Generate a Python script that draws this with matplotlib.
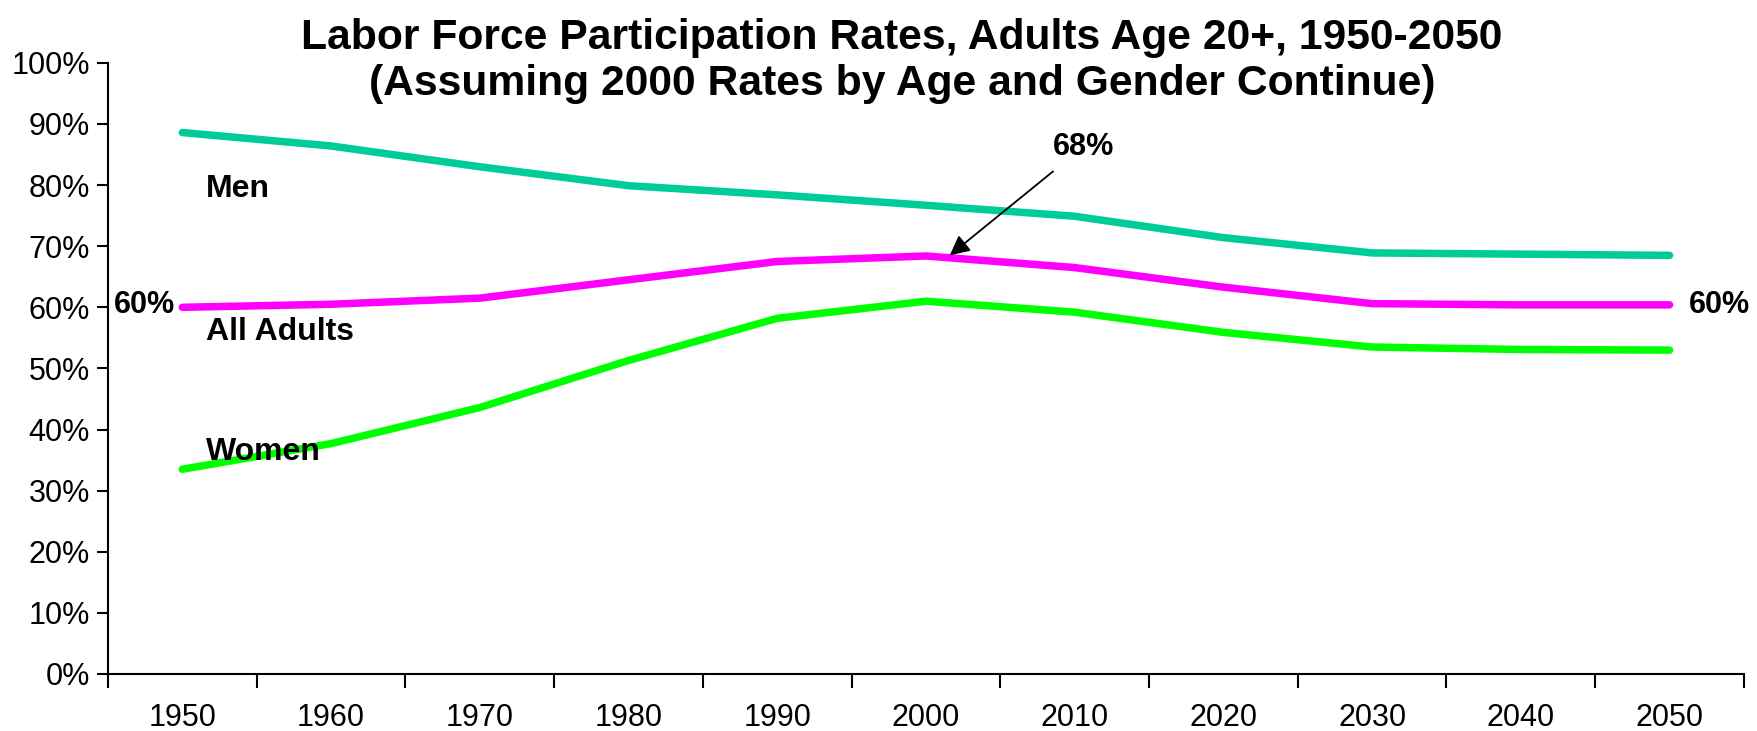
import matplotlib
matplotlib.use("Agg")
import matplotlib.pyplot as plt
from matplotlib.ticker import FixedLocator, PercentFormatter

plt.rcParams['font.family'] = ['Liberation Sans', 'DejaVu Sans']

years = ['1950', '1960', '1970', '1980', '1990', '2000',
         '2010', '2020', '2030', '2040', '2050']
men = [88.6, 86.4, 83.0, 79.9, 78.4, 76.7, 74.9, 71.4, 68.9, 68.7, 68.5]
all_adults = [60.0, 60.5, 61.5, 64.5, 67.5, 68.4, 66.5, 63.3, 60.6, 60.4, 60.4]
women = [33.5, 37.7, 43.6, 51.3, 58.2, 61.0, 59.2, 55.9, 53.5, 53.1, 53.0]

fig = plt.figure(figsize=(17.58, 7.31), dpi=100)
ax = fig.add_axes([0.0614, 0.078, 0.9306, 0.836])

x = list(range(len(years)))
ax.plot(x, men, color='#00CC99', lw=5.4, solid_capstyle='round', clip_on=False)
ax.plot(x, all_adults, color='#FF00FF', lw=5.4, solid_capstyle='round', clip_on=False)
ax.plot(x, women, color='#00FF00', lw=5.4, solid_capstyle='round', clip_on=False)

ax.set_xlim(-0.5, len(years) - 0.5)
ax.set_ylim(0, 100)
ax.set_yticks(range(0, 101, 10))
ax.yaxis.set_major_formatter(PercentFormatter(decimals=0))
ax.set_xticks(x)
ax.set_xticklabels(years)
ax.xaxis.set_minor_locator(FixedLocator([i - 0.5 for i in range(len(years) + 1)]))

ax.tick_params(axis='x', which='major', length=0, pad=21, labelsize=22)
ax.tick_params(axis='x', which='minor', length=10, width=1.5, direction='out')
ax.tick_params(axis='y', length=8, width=1.5, pad=5, labelsize=22)

for s in ['top', 'right']:
    ax.spines[s].set_visible(False)
for s in ['left', 'bottom']:
    ax.spines[s].set_linewidth(1.5)

ax.text(0.16, 79.3, 'Men', fontsize=23, fontweight='bold', va='center', ha='left')
ax.text(0.16, 55.9, 'All Adults', fontsize=23, fontweight='bold', va='center', ha='left')
ax.text(0.16, 36.3, 'Women', fontsize=23, fontweight='bold', va='center', ha='left')
ax.text(-0.05, 60.3, '60%', fontsize=22, fontweight='bold', va='center', ha='right')
ax.text(10.13, 60.3, '60%', fontsize=22, fontweight='bold', va='center', ha='left')

ax.annotate('68%', xy=(5.16, 68.5), xytext=(6.06, 86.3),
            fontsize=22, fontweight='bold', ha='center', va='center',
            arrowprops=dict(arrowstyle='-|>', color='black', lw=1.3,
                            mutation_scale=30, shrinkA=8, shrinkB=0))

fig.text(0.513, 0.917,
         'Labor Force Participation Rates, Adults Age 20+, 1950-2050\n'
         '(Assuming 2000 Rates by Age and Gender Continue)',
         fontsize=30.7, fontweight='bold', ha='center', va='center', linespacing=1.2)

fig.savefig('out.png', dpi=100)
